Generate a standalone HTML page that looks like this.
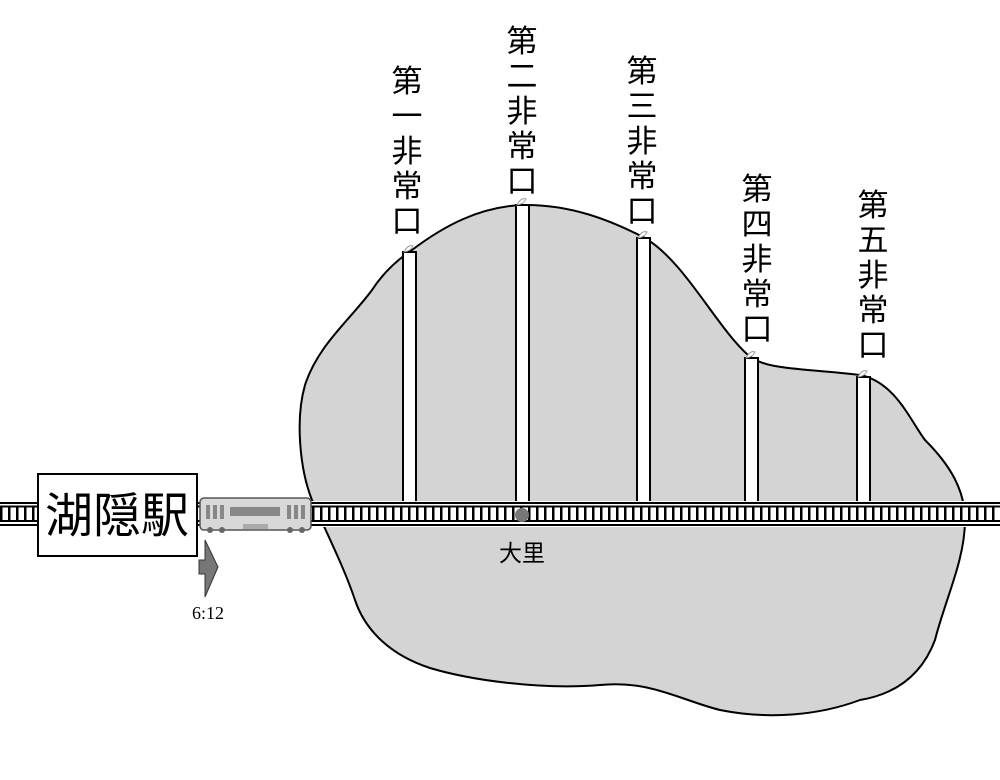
<!DOCTYPE html>
<html><head><meta charset="utf-8"><style>
body{margin:0;background:#fff;}
#c{position:relative;width:1000px;height:780px;overflow:hidden;background:#fff;font-family:"Liberation Sans","Noto Sans CJK JP",sans-serif;}
.v{position:absolute;width:36px;font-size:31px;line-height:35px;text-align:center;color:#000;}
</style></head><body><div id="c">
<svg width="1000" height="780" style="position:absolute;left:0;top:0">
<defs>
<pattern id="ties" x="0" y="0" width="8" height="30" patternUnits="userSpaceOnUse">
<rect x="0" y="0" width="2.5" height="30" fill="#000"/>
</pattern>
</defs>
<path d="M312,500 C300,470 295,420 305,385 C318,345 350,320 372,290 C385,270 400,258 412,250 C445,225 480,207 522,205 C570,204 610,220 645,238 C685,262 715,325 748,355 C765,370 800,368 860,375 C895,382 910,420 925,440 C950,465 965,490 965,520 C965,560 945,600 935,640 C920,680 890,695 860,700 C820,715 770,720 720,710 C680,700 650,680 600,685 C540,690 470,680 430,668 C390,655 365,630 355,600 C345,570 330,540 312,500 Z" fill="#d4d4d4" stroke="#000" stroke-width="2"/>
<g fill="#fff" stroke="#000" stroke-width="2">
<rect x="403" y="252" width="13" height="250"/>
<rect x="516" y="205" width="13" height="297"/>
<rect x="637" y="238" width="13" height="264"/>
<rect x="745" y="358" width="13" height="144"/>
<rect x="857" y="377" width="13" height="125"/>
</g>
<g fill="#fff" stroke="#999" stroke-width="1">
<path d="M404,252 q4,-8 9,-6 q-2,5 -9,6z"/>
<path d="M517,205 q4,-8 9,-6 q-2,5 -9,6z"/>
<path d="M638,238 q4,-8 9,-6 q-2,5 -9,6z"/>
<path d="M746,358 q4,-8 9,-6 q-2,5 -9,6z"/>
<path d="M858,377 q4,-8 9,-6 q-2,5 -9,6z"/>
</g>
<rect x="0" y="501" width="1000" height="26" fill="#fff"/>
<rect x="0" y="507" width="1000" height="14" fill="url(#ties)"/>
<g fill="#000">
<rect x="0" y="502" width="1000" height="2"/>
<rect x="0" y="505.5" width="1000" height="2"/>
<rect x="0" y="520" width="1000" height="2"/>
<rect x="0" y="524" width="1000" height="2"/>
</g>
<circle cx="522" cy="515" r="7" fill="#777"/>
<rect x="38" y="474" width="159" height="82" fill="#fff" stroke="#000" stroke-width="2"/>
<g>
<rect x="200" y="498" width="111" height="32" rx="4" fill="#d8d8d8" stroke="#555" stroke-width="1.5"/>
<rect x="230" y="507" width="50" height="9" fill="#888"/>
<rect x="206" y="505" width="4" height="14" fill="#888"/><rect x="213" y="505" width="4" height="14" fill="#888"/><rect x="220" y="505" width="4" height="14" fill="#888"/>
<rect x="287" y="505" width="4" height="14" fill="#888"/><rect x="294" y="505" width="4" height="14" fill="#888"/><rect x="301" y="505" width="4" height="14" fill="#888"/>
<rect x="243" y="524" width="25" height="5" fill="#aaa"/>
<circle cx="210" cy="530" r="3" fill="#666"/><circle cx="222" cy="530" r="3" fill="#666"/><circle cx="290" cy="530" r="3" fill="#666"/><circle cx="302" cy="530" r="3" fill="#666"/>
</g>
<path d="M205,540 L218,567 L205,597 L205,574 L199,574 L199,560 L205,560 Z" fill="#777" stroke="#333" stroke-width="1"/>
<text x="208" y="619" font-family="Liberation Serif,serif" font-size="18" text-anchor="middle">6:12</text>
<text x="522" y="561" font-family="Liberation Sans,'Noto Sans CJK JP',sans-serif" font-size="23" text-anchor="middle">大里</text>
<text x="117" y="532" font-family="Liberation Sans,'Noto Sans CJK JP',sans-serif" font-size="48" text-anchor="middle">湖隠駅</text>
</svg>
<div class="v" style="left:389px;top:64px">第<br>一<br>非<br>常<br>口</div>
<div class="v" style="left:504px;top:24px">第<br>二<br>非<br>常<br>口</div>
<div class="v" style="left:624px;top:54px">第<br>三<br>非<br>常<br>口</div>
<div class="v" style="left:739px;top:172px">第<br>四<br>非<br>常<br>口</div>
<div class="v" style="left:855px;top:188px">第<br>五<br>非<br>常<br>口</div>
</div></body></html>
